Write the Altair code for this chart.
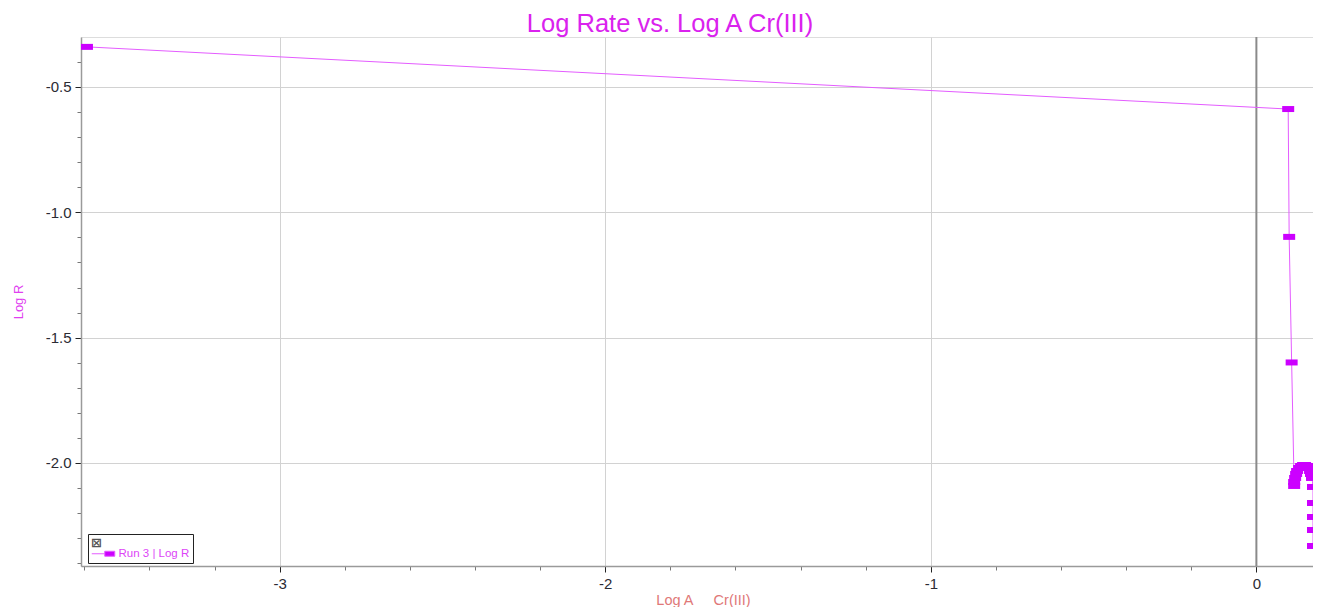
import altair as alt
import pandas as pd

# ---- data ----
series_name = "Run 3 | Log R"
log_a = [-3.592, 0.0977, 0.1007, 0.1083,
         0.1160, 0.1160, 0.1190, 0.1221, 0.1251, 0.1312, 0.1373, 0.1434,
         0.1495, 0.1556, 0.1617, 0.1648, 0.1678, 0.1709,
         0.1739, 0.1739, 0.1739, 0.1739, 0.1739]
log_r = [-0.340, -0.588, -1.098, -1.599,
         -2.0917, -2.0758, -2.0598, -2.0439, -2.0319, -2.0199, -2.0120, -2.0080,
         -2.0080, -2.0120, -2.0199, -2.0319, -2.0439, -2.0598,
         -2.0957, -2.1596, -2.2154, -2.2673, -2.3311]
x_ticks = [-3.6, -3.4, -3.2, -3.0, -2.8, -2.6, -2.4, -2.2, -2.0, -1.8,
           -1.6, -1.4, -1.2, -1.0, -0.8, -0.6, -0.4, -0.2, 0.0]
x_major = [-3.0, -2.0, -1.0, 0.0]
y_ticks = [-2.4, -2.3, -2.2, -2.1, -2.0, -1.9, -1.8, -1.7, -1.6, -1.5, -1.4,
           -1.3, -1.2, -1.1, -1.0, -0.9, -0.8, -0.7, -0.6, -0.5, -0.4]
y_major = [-2.0, -1.5, -1.0, -0.5]
zero_line = [0.0]

df = pd.DataFrame({"log_a": log_a, "log_r": log_r,
                   "idx": list(range(len(log_a))), "series": series_name})
zdf = pd.DataFrame({"x": zero_line})

FONT = "Liberation Sans"
MARKER = "#CC00FF"
LINE = "#E45CFF"
RECT = "M-1,-0.5L1,-0.5L1,0.5L-1,0.5Z"
LEG_SYM = "M-2.3,0L0.3,0M0.3,-0.5L2.3,-0.5L2.3,0.5L0.3,0.5Z"


def member(vals):
    return "indexof([" + ",".join(str(v) for v in vals) + "], datum.value) >= 0"


X_MAJOR = member(x_major)
Y_MAJOR = member(y_major)

x_scale = alt.Scale(domain=[-3.6103, 0.1739], nice=False, zero=False)
y_scale = alt.Scale(domain=[-2.411, -0.3006], nice=False, zero=False)

x_axis = alt.Axis(
    values=x_ticks, tickCount=200,
    labelExpr=X_MAJOR + " ? replace(format(datum.value, 'd'), '\u2212', '-') : ''",
    title="Log A\u00a0\u00a0\u00a0\u00a0\u00a0Cr(III)",
    titleColor="#E07878", titleFont=FONT, titleFontSize=14.5, titleFontWeight="normal",
    titleBaseline="alphabetic", titleY=38, titleX=622,
    labelFont=FONT, labelFontSize=15, labelColor="#2b2b33", labelPadding=4,
    labelOverlap=False, labelFlush=False, labelBound=False,
    tickSize={"condition": {"test": X_MAJOR, "value": 6}, "value": 4},
    tickColor={"condition": {"test": X_MAJOR, "value": "#222222"}, "value": "#777777"},
    gridOpacity={"condition": {"test": X_MAJOR, "value": 1}, "value": 0},
    gridColor="#d2d2d2", domainColor="#9a9a9a", domainWidth=1.5,
)
y_axis = alt.Axis(
    values=y_ticks, tickCount=200,
    labelExpr=Y_MAJOR + " ? replace(format(datum.value, '.1f'), '\u2212', '-') : ''",
    title="Log R",
    titleColor="#E040F0", titleFont=FONT, titleFontSize=13, titleFontWeight="normal",
    titleBaseline="alphabetic", titleX=-59,
    labelFont=FONT, labelFontSize=15, labelColor="#2b2b33", labelPadding=4,
    labelOverlap=False, labelFlush=False, labelBound=False,
    tickSize={"condition": {"test": Y_MAJOR, "value": 6}, "value": 4},
    tickColor={"condition": {"test": Y_MAJOR, "value": "#222222"}, "value": "#777777"},
    gridOpacity={"condition": {"test": Y_MAJOR, "value": 1}, "value": 0},
    gridColor="#d2d2d2", domainColor="#9a9a9a", domainWidth=1.5,
)

base = alt.Chart(df)

line = base.mark_line(color=LINE, strokeWidth=1, clip=True).encode(
    x=alt.X("log_a:Q", scale=x_scale, axis=x_axis),
    y=alt.Y("log_r:Q", scale=y_scale, axis=y_axis),
    order="idx:Q",
)

points = base.mark_point(filled=True, shape=RECT, size=144, opacity=1, clip=True).encode(
    x=alt.X("log_a:Q", scale=x_scale),
    y=alt.Y("log_r:Q", scale=y_scale),
    color=alt.Color(
        "series:N",
        scale=alt.Scale(domain=[series_name], range=[MARKER]),
        legend=alt.Legend(
            orient="none", legendX=7, legendY=497,
            title="\u22a0", titleFontSize=13, titleColor="#555555", titlePadding=-2,
            titleFont="DejaVu Sans",
            labelFont=FONT, labelFontSize=11.5, labelColor="#DD44F7",
            labelOffset=9.5, symbolOffset=6.5,
            symbolType=LEG_SYM, symbolSize=100,
            symbolFillColor=MARKER, symbolStrokeColor=LINE, symbolStrokeWidth=1,
            fillColor="white", strokeColor="#222222",
            padding=3,
        ),
    ),
)

zero = alt.Chart(zdf).mark_rule(color="#8a8a8a", strokeWidth=2).encode(
    x=alt.X("x:Q", scale=x_scale)
)

chart = alt.layer(zero, line, points).properties(
    width=1232,
    height=529,
    autosize=alt.AutoSizeParams(type="none"),
    padding={"left": 73, "top": 29, "right": 0, "bottom": 41},
    title=alt.TitleParams(
        "Log Rate vs. Log A Cr(III)",
        color="#DA22EE", font=FONT, fontSize=25.5, fontWeight="normal",
        anchor="middle", dx=-27, baseline="alphabetic", offset=-21,
    ),
).configure_view(stroke="#a0a0a0", strokeWidth=1).configure(background="white")

chart.save("out.html", embed_options={"renderer": "svg", "actions": False})
